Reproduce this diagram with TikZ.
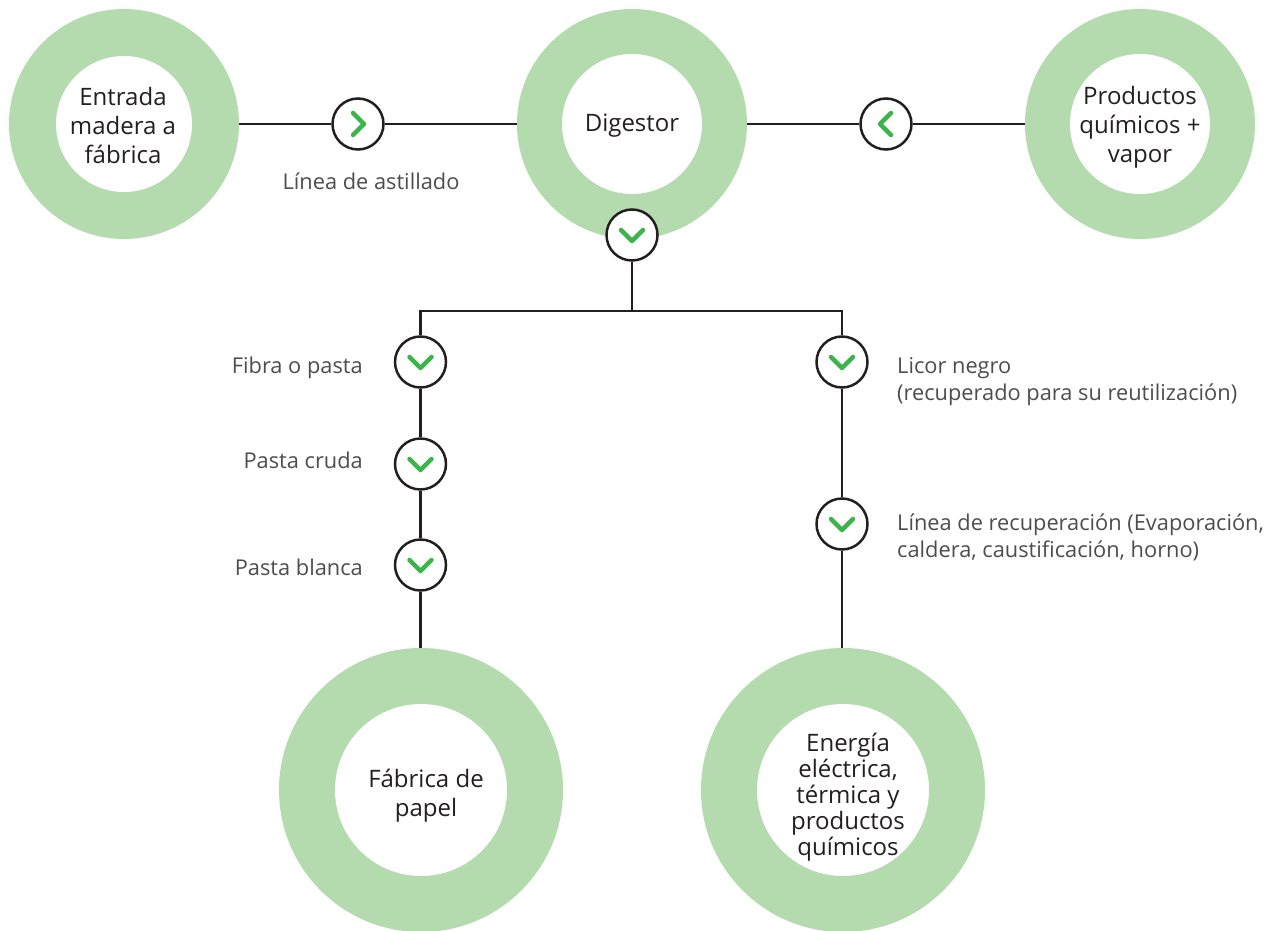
\documentclass[tikz,border=0pt]{standalone}
\usepackage{fontspec}
\setmainfont{Open Sans}
\definecolor{ring}{HTML}{B3DBAE}
\definecolor{ink}{HTML}{231F20}
\definecolor{chev}{HTML}{39B54A}
\definecolor{lab}{HTML}{4D4D4F}
\tikzset{
  outerS/.style={circle,fill=ring,inner sep=0pt,minimum size=230pt},
  outerL/.style={circle,fill=ring,inner sep=0pt,minimum size=284pt},
  innerS/.style={circle,fill=white,inner sep=0pt,minimum size=#1},
  innerL/.style={circle,fill=white,inner sep=0pt,minimum size=172pt},
  ringtext/.style={align=center,inner sep=0pt,text=ink,font=\fontsize{24}{#1}\selectfont},
  badge/.style={circle,draw=ink,line width=2.5pt,fill=white,inner sep=0pt,minimum size=51pt},
  link/.style={draw=ink,line width=2.5pt},
  chevron/.style={draw=chev,line width=4.5pt,line cap=round,line join=round},
  lbl/.style={font=\fontsize{21.8}{27}\selectfont,text=lab,inner sep=0pt}
}
\newcommand{\chevat}[2]{\draw[chevron,shift={(#1)},rotate=#2] (-11,-5) -- (0,6) -- (11,-5);}
\begin{document}
\begin{tikzpicture}[x=1pt,y=-1pt]
\useasboundingbox (0,0) rectangle (1272,931);
% rings
\node[outerS] (entO) at (124,124) {};
\node[outerS] (digO) at (632,124) {};
\node[outerS] (proO) at (1140,124) {};
\node[outerL] (fabO) at (421,790) {};
\node[outerL] (eneO) at (843,790) {};
\node[innerS=136pt] (ent) at (124,124) {};
\node[innerS=140pt] (dig) at (632,124) {};
\node[innerS=140pt] (pro) at (1140,124) {};
\node[innerL] (fab) at (421,790) {};
\node[innerL] (ene) at (843,790) {};
% text of the rings
\node[ringtext=29] (entT) at (123,126) {Entrada\\madera a\\fábrica};
\node[ringtext=29] (digT) at (632,126) {Digestor};
\node[ringtext=29] (proT) at (1140,127) {Productos\\químicos +\\vapor};
\node[ringtext=29] (fabT) at (426,796) {Fábrica de\\papel};
\node[ringtext=26] (eneT) at (848,797) {Energía\\eléctrica,\\térmica y\\productos\\químicos};
% badges
\node[badge] (b1) at (358,124) {};
\node[badge] (b2) at (886,124) {};
\node[badge] (b3) at (632,235) {};
\node[badge] (l1) at (420.5,362) {};
\node[badge] (l2) at (420.5,464) {};
\node[badge] (l3) at (420.5,565) {};
\node[badge] (r1) at (842,362) {};
\node[badge] (r2) at (842,524) {};
\coordinate (split) at (632,311);
% connectors
\draw[link] (entO.east) -- (b1);
\draw[link] (b1) -- (digO.west);
\draw[link] (digO.east) -- (b2);
\draw[link] (b2) -- (proO.west);
\draw[link] (b3) -- (split);
\draw[link] (l1.north) |- (split) -| (r1.north);
\draw[link] (l1) -- (l2);
\draw[link] (l2) -- (l3);
\draw[link] (l3) -- (l3 |- fabO.north);
\draw[link] (r1) -- (r2);
\draw[link] (r2) -- (r2 |- eneO.north);
% chevrons
\chevat{b1}{90}
\chevat{b2}{-90}
\chevat{b3}{0}
\chevat{l1}{0}
\chevat{l2}{0}
\chevat{l3}{0}
\chevat{r1}{0}
\chevat{r2}{0}
% labels
\node[lbl,anchor=center] (t1) at (371,181) {Línea de astillado};
\node[lbl,anchor=east] (t2) at (363,368) {Fibra o pasta};
\node[lbl,anchor=east] (t3) at (363,460) {Pasta cruda};
\node[lbl,anchor=east] (t4) at (363,567) {Pasta blanca};
\node[lbl,anchor=west,align=left] (t5) at (897,382) {Licor negro\\(recuperado para su reutilización)};
\node[lbl,anchor=west,align=left] (t6) at (897,537) {Línea de recuperación (Evaporación,\\caldera, caustificación, horno)};
\end{tikzpicture}
\end{document}
